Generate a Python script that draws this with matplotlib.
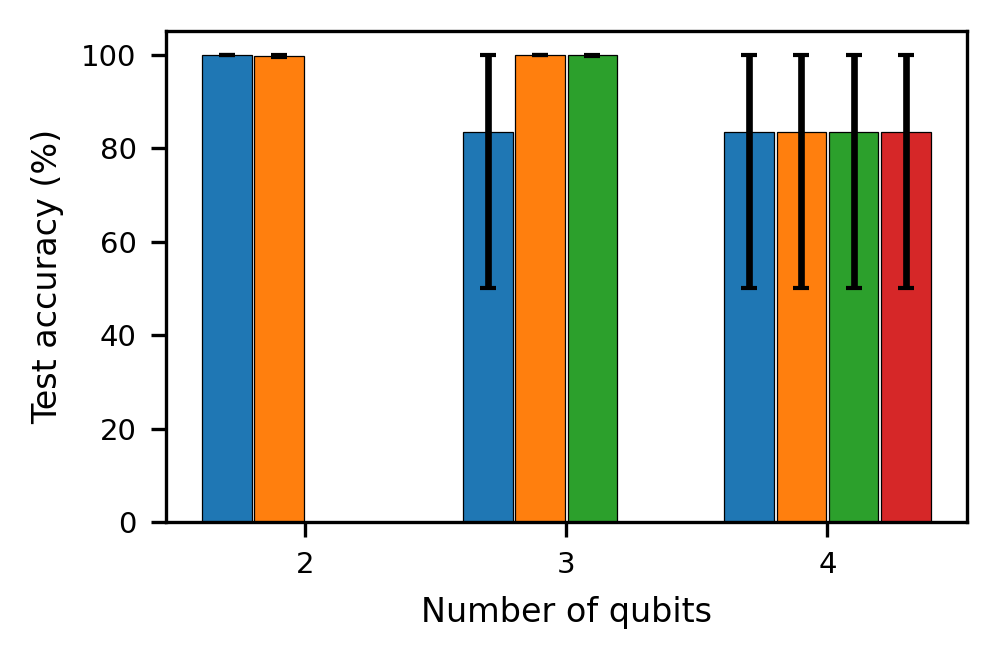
import matplotlib
matplotlib.use('Agg')
import matplotlib.pyplot as plt
import numpy as np

# number of qubits on the x axis
qubits = [2, 3, 4]
colors = ['tab:blue', 'tab:orange', 'tab:green', 'tab:red']

# mean test accuracy (%) per series, None where there is no bar
acc = [
    [100.0, 83.33, 83.33],
    [99.7, 100.0, 83.33],
    [None, 99.8, 83.33],
    [None, None, 83.33],
]
# lower / upper error (min and max over runs)
err_low = [
    [0.0, 33.33, 33.33],
    [0.3, 0.0, 33.33],
    [None, 0.2, 33.33],
    [None, None, 33.33],
]
err_high = [
    [0.0, 16.67, 16.67],
    [0.3, 0.0, 16.67],
    [None, 0.2, 16.67],
    [None, None, 16.67],
]

fig, ax = plt.subplots(figsize=(998 / 300, 662 / 300), dpi=300)
fig.subplots_adjust(left=0.166, right=0.969, bottom=0.211, top=0.953)

step = 0.2
w = 0.19
for i in range(4):
    xs, ys, lo, hi = [], [], [], []
    for j, q in enumerate(qubits):
        if acc[i][j] is None:
            continue
        xs.append(q + (i - 1.5) * step)
        ys.append(acc[i][j])
        lo.append(err_low[i][j])
        hi.append(err_high[i][j])
    ax.bar(xs, ys, width=w, color=colors[i], edgecolor='black', linewidth=0.3)
    ax.errorbar(xs, ys, yerr=[lo, hi], fmt='none', ecolor='black',
                elinewidth=1.6, capsize=2, capthick=1.0)

ax.set_xticks(qubits)
ax.tick_params(labelsize=7)
ax.set_xlabel('Number of qubits', fontsize=8)
ax.set_ylabel('Test accuracy (%)', fontsize=8)

plt.savefig('out.png', dpi=300)
